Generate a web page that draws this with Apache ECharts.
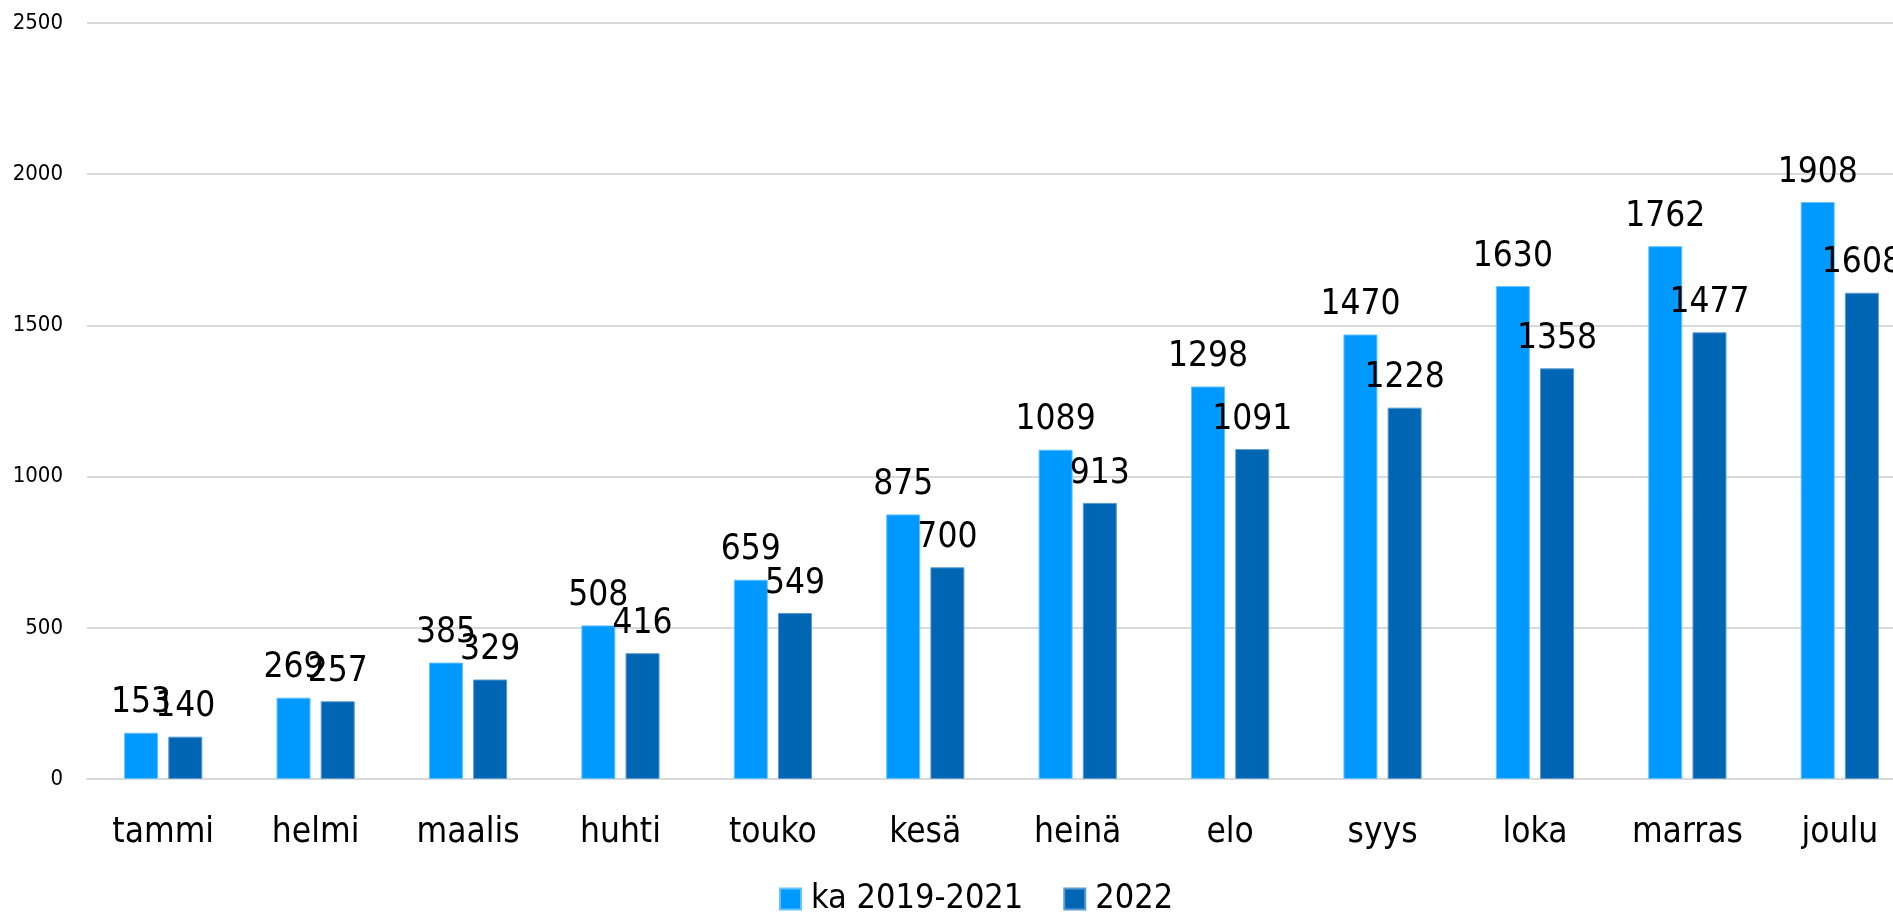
<!DOCTYPE html>
<html>
<head>
<meta charset="utf-8">
<script src="https://cdn.jsdelivr.net/npm/echarts@6/dist/echarts.min.js"></script>
<style>
  html, body { margin: 0; padding: 0; background: #fff; overflow: hidden; }
  /* the plot runs past the right edge of the window, like the original */
  #chart { width: 1916px; height: 916px; }
</style>
</head>
<body>
<div id="chart"></div>
<script>
var months = ["tammi", "helmi", "maalis", "huhti", "touko", "kesä", "heinä", "elo", "syys", "loka", "marras", "joulu"];
var avg2019_2021 = [153, 269, 385, 508, 659, 875, 1089, 1298, 1470, 1630, 1762, 1908];
var year2022 = [140, 257, 329, 416, 549, 700, 913, 1091, 1228, 1358, 1477, 1608];

var font = "'DejaVu Sans Condensed', 'Liberation Sans Narrow', 'DejaVu Sans', sans-serif";

var chart = echarts.init(document.getElementById("chart"));

var option = {
  animation: false,
  textStyle: { fontFamily: font },
  grid: { left: 87, right: 0, top: 23, bottom: 137, containLabel: false },
  legend: {
    left: 774,
    top: 877,
    itemWidth: 21,
    itemHeight: 21,
    itemGap: 40,
    icon: "rect",
    textStyle: { fontSize: 34, color: "#000", fontFamily: font, padding: [0, 0, 0, 5] },
    data: ["ka 2019-2021", "2022"]
  },
  xAxis: {
    type: "category",
    data: months,
    axisTick: { show: false },
    axisLine: { lineStyle: { color: "#d9d9d9", width: 2 } },
    axisLabel: { fontSize: 35, color: "#000", margin: 36, fontFamily: font }
  },
  yAxis: {
    type: "value",
    min: 0,
    max: 2500,
    interval: 500,
    axisLabel: {
      fontSize: 22,
      color: "#000",
      margin: 24,
      fontFamily: font,
      formatter: function (v) { return String(v); }
    },
    splitLine: { lineStyle: { color: "#d9d9d9", width: 2 } }
  },
  series: [
    {
      name: "ka 2019-2021",
      type: "bar",
      data: avg2019_2021,
      barWidth: 34,
      barGap: "30%",
      itemStyle: { color: "#0099ff", borderColor: "#66c2ff", borderWidth: 1 },
      label: { show: true, position: "top", distance: 12, fontSize: 35, color: "#000", fontFamily: font }
    },
    {
      name: "2022",
      type: "bar",
      data: year2022,
      barWidth: 34,
      itemStyle: { color: "#0066b3", borderColor: "#5a9bd0", borderWidth: 1 },
      label: { show: true, position: "top", distance: 12, fontSize: 35, color: "#000", fontFamily: font }
    }
  ]
};

chart.setOption(option);
</script>
</body>
</html>
